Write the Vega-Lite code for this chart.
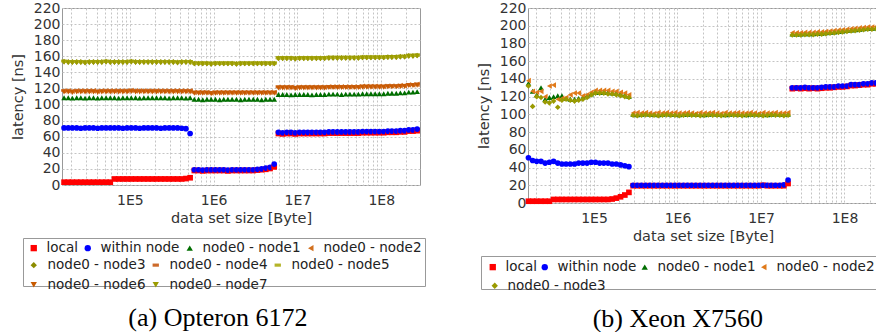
{
  "$schema": "https://vega.github.io/schema/vega-lite/v6.json",
  "background": "white",
  "padding": {"left": 9, "top": 0, "right": 0, "bottom": 0},
  "spacing": 49,
  "datasets": {
    "names": [
      {"k": "a", "series": "local"},
      {"k": "b", "series": "within node"},
      {"k": "c", "series": "node0 - node1"},
      {"k": "d", "series": "node0 - node2"},
      {"k": "e", "series": "node0 - node3"},
      {"k": "f", "series": "node0 - node4"},
      {"k": "g", "series": "node0 - node5"},
      {"k": "h", "series": "node0 - node6"},
      {"k": "i", "series": "node0 - node7"}
    ],
    "left": [
      {"x":16400,"a":3.5,"b":71,"c":108.5,"d":117,"e":153.5,"f":117.5,"g":154,"h":115.5,"i":152.5},
      {"x":18400,"a":3.5,"b":71,"c":108.5,"d":117,"e":153,"f":117.5,"g":153.5,"h":115.5,"i":152},
      {"x":20600,"a":3.5,"b":71,"c":108,"d":116.5,"e":153,"f":117,"g":153.5,"h":115,"i":152},
      {"x":23200,"a":3.5,"b":71,"c":108.5,"d":117,"e":153,"f":117.5,"g":153.5,"h":115.5,"i":152},
      {"x":26000,"a":3.5,"b":70.5,"c":108.5,"d":117,"e":153,"f":117.5,"g":153.5,"h":115.5,"i":152},
      {"x":29200,"a":3.5,"b":71,"c":108,"d":117,"e":152.5,"f":117.5,"g":153,"h":115.5,"i":151.5},
      {"x":32800,"a":3.5,"b":71,"c":108.5,"d":117,"e":153,"f":117.5,"g":153.5,"h":115.5,"i":152},
      {"x":36800,"a":3.5,"b":71,"c":108.5,"d":117,"e":153,"f":117.5,"g":153.5,"h":115.5,"i":152},
      {"x":41300,"a":3.5,"b":70.5,"c":108,"d":116.5,"e":153,"f":117,"g":153.5,"h":115,"i":152},
      {"x":46300,"a":3.5,"b":71,"c":108.5,"d":117,"e":153,"f":117.5,"g":153.5,"h":115.5,"i":152},
      {"x":52000,"a":3.5,"b":71,"c":108.5,"d":117,"e":153.5,"f":117.5,"g":154,"h":115.5,"i":152.5},
      {"x":58400,"a":3.5,"b":71,"c":108.5,"d":117,"e":153,"f":117.5,"g":153.5,"h":115.5,"i":152},
      {"x":65500,"a":7.5,"b":71,"c":108.5,"d":117,"e":153,"f":117.5,"g":153.5,"h":115.5,"i":152},
      {"x":73600,"a":7.5,"b":71,"c":108,"d":117,"e":153,"f":117.5,"g":153.5,"h":115.5,"i":152},
      {"x":82600,"a":7.5,"b":70.5,"c":108.5,"d":117,"e":153,"f":117.5,"g":153.5,"h":115.5,"i":152},
      {"x":92700,"a":7.5,"b":71,"c":108.5,"d":117,"e":153,"f":117.5,"g":153.5,"h":115.5,"i":152},
      {"x":104000,"a":7.5,"b":71,"c":108.5,"d":117.5,"e":153.5,"f":118,"g":154,"h":116,"i":152.5},
      {"x":117000,"a":7.5,"b":71,"c":108.5,"d":117,"e":153,"f":117.5,"g":153.5,"h":115.5,"i":152},
      {"x":131000,"a":7.5,"b":70.5,"c":108,"d":117,"e":153,"f":117.5,"g":153.5,"h":115.5,"i":152},
      {"x":147000,"a":7.5,"b":71,"c":108.5,"d":117,"e":153,"f":117.5,"g":153.5,"h":115.5,"i":152},
      {"x":165000,"a":7.5,"b":71,"c":108.5,"d":117,"e":153,"f":117.5,"g":153.5,"h":115.5,"i":152},
      {"x":185000,"a":7.5,"b":71,"c":108.5,"d":117,"e":153,"f":117.5,"g":153.5,"h":115.5,"i":152},
      {"x":208000,"a":7.5,"b":71,"c":108.5,"d":117,"e":153,"f":117.5,"g":153.5,"h":115.5,"i":152},
      {"x":234000,"a":7.5,"b":70.5,"c":108.5,"d":117,"e":153,"f":117.5,"g":153.5,"h":115.5,"i":152},
      {"x":262000,"a":7.5,"b":71,"c":108.5,"d":117,"e":153,"f":117.5,"g":153.5,"h":115.5,"i":152},
      {"x":294000,"a":7.5,"b":71,"c":108,"d":117,"e":153,"f":117.5,"g":153.5,"h":115.5,"i":152},
      {"x":330000,"a":7.5,"b":71,"c":108.5,"d":117,"e":153,"f":117.5,"g":153.5,"h":115.5,"i":152},
      {"x":371000,"a":7.5,"b":71,"c":108.5,"d":117,"e":152.5,"f":117.5,"g":153,"h":115.5,"i":151.5},
      {"x":416000,"a":7.5,"b":70.5,"c":108.5,"d":117,"e":153,"f":117.5,"g":153.5,"h":115.5,"i":152},
      {"x":467000,"a":8,"b":70,"c":108,"d":117,"e":153,"f":117.5,"g":153.5,"h":115.5,"i":152},
      {"x":524000,"a":9,"b":64,"c":108.5,"d":117,"e":153,"f":117.5,"g":153.5,"h":115.5,"i":152},
      {"x":588000,"a":18,"b":19,"c":106.5,"d":115,"e":151,"f":115.5,"g":151.5,"h":114,"i":150.5},
      {"x":661000,"a":18,"b":19,"c":106.5,"d":115,"e":151,"f":115.5,"g":151.5,"h":114,"i":150.5},
      {"x":741000,"a":17.5,"b":18.5,"c":106,"d":115,"e":151,"f":115.5,"g":151.5,"h":114,"i":150.5},
      {"x":832000,"a":18,"b":19,"c":106.5,"d":115,"e":151,"f":115.5,"g":151.5,"h":114,"i":150.5},
      {"x":934000,"a":18,"b":19,"c":106.5,"d":114.5,"e":150.5,"f":115,"g":151,"h":113.5,"i":150},
      {"x":1050000,"a":18,"b":19,"c":106.5,"d":115,"e":151,"f":115.5,"g":151.5,"h":114,"i":150.5},
      {"x":1180000,"a":18,"b":19,"c":106,"d":115,"e":151,"f":115.5,"g":151.5,"h":114,"i":150.5},
      {"x":1320000,"a":18,"b":19,"c":106.5,"d":115,"e":151,"f":115.5,"g":151.5,"h":114,"i":150.5},
      {"x":1480000,"a":17.5,"b":18.5,"c":106.5,"d":115,"e":151,"f":115.5,"g":151.5,"h":114,"i":150.5},
      {"x":1660000,"a":18,"b":19,"c":106.5,"d":115,"e":151,"f":115.5,"g":151.5,"h":114,"i":150.5},
      {"x":1870000,"a":18,"b":19,"c":106.5,"d":115,"e":150.5,"f":115.5,"g":151,"h":114,"i":150},
      {"x":2100000,"a":18,"b":19,"c":106,"d":115,"e":151,"f":115.5,"g":151.5,"h":114,"i":150.5},
      {"x":2350000,"a":18,"b":19,"c":106.5,"d":115,"e":151,"f":115.5,"g":151.5,"h":114,"i":150.5},
      {"x":2640000,"a":18,"b":19,"c":106.5,"d":115,"e":151,"f":115.5,"g":151.5,"h":114,"i":150.5},
      {"x":2970000,"a":18,"b":19,"c":106.5,"d":115,"e":151,"f":115.5,"g":151.5,"h":114,"i":150.5},
      {"x":3330000,"a":18.5,"b":19.5,"c":106.5,"d":115,"e":151,"f":115.5,"g":151.5,"h":114,"i":150.5},
      {"x":3740000,"a":19,"b":20,"c":106,"d":115,"e":151,"f":115.5,"g":151.5,"h":114,"i":150.5},
      {"x":4190000,"a":19.5,"b":21,"c":106.5,"d":115,"e":151,"f":115.5,"g":151.5,"h":114,"i":150.5},
      {"x":4710000,"a":20.5,"b":22,"c":106.5,"d":115,"e":151,"f":115.5,"g":151.5,"h":114,"i":150.5},
      {"x":5280000,"a":22.5,"b":26,"c":106.5,"d":115,"e":151,"f":115.5,"g":151.5,"h":114,"i":150.5},
      {"x":5930000,"a":64,"b":65.5,"c":112.5,"d":121.5,"e":157.5,"f":122,"g":158,"h":120.5,"i":157},
      {"x":6660000,"a":63.5,"b":65,"c":112.5,"d":121.5,"e":157.5,"f":122,"g":158,"h":120.5,"i":157},
      {"x":7470000,"a":64,"b":65.5,"c":112.5,"d":121.5,"e":157.5,"f":122,"g":158,"h":120.5,"i":157},
      {"x":8390000,"a":64,"b":65.5,"c":112,"d":121.5,"e":157.5,"f":122,"g":158,"h":120.5,"i":157},
      {"x":9420000,"a":63.5,"b":65,"c":112.5,"d":121,"e":157,"f":121.5,"g":157.5,"h":120,"i":156.5},
      {"x":10600000,"a":64,"b":65.5,"c":112.5,"d":121.5,"e":157.5,"f":122,"g":158,"h":120.5,"i":157},
      {"x":11900000,"a":64,"b":65.5,"c":112.5,"d":121.5,"e":157.5,"f":122,"g":158,"h":120.5,"i":157},
      {"x":13300000,"a":64,"b":65.5,"c":112.5,"d":121.5,"e":157.5,"f":122,"g":158,"h":120.5,"i":157},
      {"x":14900000,"a":64,"b":65.5,"c":112,"d":121.5,"e":157.5,"f":122,"g":158,"h":120.5,"i":157},
      {"x":16800000,"a":64,"b":65.5,"c":112.5,"d":121.5,"e":157.5,"f":122,"g":158,"h":120.5,"i":157},
      {"x":18800000,"a":64,"b":65.5,"c":112.5,"d":121.5,"e":157.5,"f":122,"g":158,"h":120.5,"i":157},
      {"x":21100000,"a":64,"b":65.5,"c":112.5,"d":121.5,"e":157.5,"f":122,"g":158,"h":120.5,"i":157},
      {"x":23700000,"a":64.5,"b":66,"c":113,"d":122,"e":158,"f":122.5,"g":158.5,"h":121,"i":157.5},
      {"x":26600000,"a":64.5,"b":66,"c":113,"d":122,"e":158,"f":122.5,"g":158.5,"h":121,"i":157.5},
      {"x":29900000,"a":64.5,"b":66,"c":113,"d":122,"e":158,"f":122.5,"g":158.5,"h":121,"i":157.5},
      {"x":33600000,"a":64.5,"b":66,"c":112.5,"d":122,"e":158,"f":122.5,"g":158.5,"h":121,"i":157.5},
      {"x":37700000,"a":64.5,"b":66,"c":113,"d":122,"e":158,"f":122.5,"g":158.5,"h":121,"i":157.5},
      {"x":42300000,"a":64.5,"b":66,"c":113,"d":122,"e":158,"f":122.5,"g":158.5,"h":121,"i":157.5},
      {"x":47500000,"a":64.5,"b":66,"c":113,"d":122,"e":158,"f":122.5,"g":158.5,"h":121,"i":157.5},
      {"x":53300000,"a":64.5,"b":66,"c":113,"d":122,"e":158,"f":122.5,"g":158.5,"h":121,"i":157.5},
      {"x":59800000,"a":65,"b":66.5,"c":113.5,"d":122.5,"e":158.5,"f":123,"g":159,"h":121.5,"i":158},
      {"x":67100000,"a":65,"b":66.5,"c":113.5,"d":122.5,"e":158.5,"f":123,"g":159,"h":121.5,"i":158},
      {"x":75300000,"a":65,"b":66.5,"c":113.5,"d":122.5,"e":158.5,"f":123,"g":159,"h":121.5,"i":158},
      {"x":84600000,"a":65,"b":66.5,"c":113.5,"d":122.5,"e":158.5,"f":123,"g":159,"h":121.5,"i":158},
      {"x":94900000,"a":65,"b":66.5,"c":113.5,"d":122.5,"e":158.5,"f":123,"g":159,"h":121.5,"i":158},
      {"x":107000000,"a":65,"b":66.5,"c":113.5,"d":122.5,"e":158.5,"f":123,"g":159,"h":121.5,"i":158},
      {"x":120000000,"a":65.5,"b":67,"c":114,"d":123,"e":159,"f":123.5,"g":159.5,"h":122,"i":158.5},
      {"x":134000000,"a":65.5,"b":67,"c":114,"d":123,"e":159,"f":123.5,"g":159.5,"h":122,"i":158.5},
      {"x":151000000,"a":65.5,"b":67,"c":114,"d":123,"e":159,"f":123.5,"g":159.5,"h":122,"i":158.5},
      {"x":169000000,"a":66,"b":67.5,"c":114.5,"d":123.5,"e":159.5,"f":124,"g":160,"h":122.5,"i":159},
      {"x":190000000,"a":66,"b":67.5,"c":114.5,"d":123.5,"e":159.5,"f":124,"g":160,"h":122.5,"i":159},
      {"x":213000000,"a":67,"b":68.5,"c":115.5,"d":124.5,"e":160.5,"f":125,"g":161,"h":123.5,"i":160},
      {"x":239000000,"a":67,"b":68.5,"c":115.5,"d":124.5,"e":160.5,"f":125,"g":161,"h":123.5,"i":160},
      {"x":268000000,"a":67.5,"b":69.5,"c":116,"d":125,"e":161,"f":125.5,"g":161.5,"h":124,"i":160.5}
    ],
    "right": [
      {"x":16400,"a":2,"b":51,"c":135,"d":138,"e":132},
      {"x":18400,"a":2,"b":48,"c":126,"d":126,"e":109},
      {"x":20600,"a":2,"b":47,"c":122,"d":125,"e":120},
      {"x":23200,"a":2,"b":47,"c":130,"d":126,"e":119},
      {"x":26000,"a":2,"b":45,"c":117,"d":120,"e":114},
      {"x":29200,"a":2,"b":46,"c":119,"d":132,"e":113},
      {"x":32800,"a":4,"b":47,"c":120,"d":133,"e":115},
      {"x":36800,"a":4,"b":45,"c":121,"d":117,"e":108},
      {"x":41300,"a":4,"b":44,"c":121,"d":118,"e":116},
      {"x":46300,"a":4,"b":44,"c":118,"d":119,"e":117},
      {"x":52000,"a":4,"b":44,"c":117,"d":122,"e":116},
      {"x":58400,"a":4,"b":44,"c":117,"d":124,"e":115},
      {"x":65500,"a":4,"b":45,"c":118,"d":124,"e":116},
      {"x":73600,"a":4,"b":45,"c":119,"d":121,"e":117},
      {"x":82600,"a":4,"b":45,"c":121,"d":122,"e":119},
      {"x":92700,"a":4,"b":46,"c":123,"d":125,"e":122},
      {"x":104000,"a":4,"b":46,"c":125,"d":127,"e":124},
      {"x":117000,"a":4,"b":45,"c":125,"d":127,"e":124},
      {"x":131000,"a":4,"b":45,"c":125,"d":127,"e":124},
      {"x":147000,"a":4,"b":45,"c":125,"d":127,"e":123},
      {"x":165000,"a":4.5,"b":44,"c":124,"d":126,"e":123},
      {"x":185000,"a":5.5,"b":44,"c":124,"d":126,"e":122},
      {"x":208000,"a":7,"b":43,"c":123,"d":125,"e":121},
      {"x":234000,"a":9,"b":42,"c":122,"d":124,"e":120},
      {"x":262000,"a":12,"b":41,"c":120,"d":122,"e":119},
      {"x":294000,"a":19.5,"b":20,"c":100,"d":101.5,"e":99},
      {"x":330000,"a":19.5,"b":20,"c":99.5,"d":102,"e":98.5},
      {"x":371000,"a":19.5,"b":20,"c":100,"d":101.5,"e":99},
      {"x":416000,"a":19.5,"b":20,"c":100.5,"d":102,"e":99.5},
      {"x":467000,"a":19.5,"b":20,"c":100,"d":101.5,"e":99},
      {"x":524000,"a":19.5,"b":20,"c":100,"d":101,"e":99},
      {"x":588000,"a":19.5,"b":20,"c":99.5,"d":102,"e":98.5},
      {"x":661000,"a":19.5,"b":20,"c":100,"d":101.5,"e":99},
      {"x":741000,"a":19.5,"b":20,"c":100.5,"d":102,"e":99.5},
      {"x":832000,"a":19.5,"b":20,"c":100,"d":101.5,"e":99},
      {"x":934000,"a":19.5,"b":20,"c":100,"d":102,"e":99},
      {"x":1050000,"a":19.5,"b":20,"c":99.5,"d":101.5,"e":98.5},
      {"x":1180000,"a":19.5,"b":20,"c":100,"d":101.5,"e":99},
      {"x":1320000,"a":19.5,"b":20,"c":100,"d":102,"e":99.5},
      {"x":1480000,"a":19.5,"b":20,"c":100.5,"d":101.5,"e":99},
      {"x":1660000,"a":19.5,"b":20,"c":100,"d":101,"e":99},
      {"x":1870000,"a":19.5,"b":20,"c":100,"d":102,"e":98.5},
      {"x":2100000,"a":19.5,"b":20,"c":99.5,"d":101.5,"e":99},
      {"x":2350000,"a":19.5,"b":20,"c":100,"d":101.5,"e":99.5},
      {"x":2640000,"a":19.5,"b":20,"c":100.5,"d":102,"e":99},
      {"x":2970000,"a":19.5,"b":20,"c":100,"d":101.5,"e":99},
      {"x":3330000,"a":19.5,"b":20,"c":100,"d":101,"e":98.5},
      {"x":3740000,"a":19.5,"b":20,"c":99.5,"d":102,"e":99},
      {"x":4190000,"a":19.5,"b":20,"c":100,"d":101.5,"e":99.5},
      {"x":4710000,"a":19.5,"b":20,"c":100.5,"d":101.5,"e":99},
      {"x":5280000,"a":19.5,"b":20,"c":100,"d":102,"e":99},
      {"x":5930000,"a":19.5,"b":20,"c":100,"d":101.5,"e":98.5},
      {"x":6660000,"a":19.5,"b":20,"c":99.5,"d":101.5,"e":99},
      {"x":7470000,"a":19.5,"b":20,"c":100,"d":102,"e":99.5},
      {"x":8390000,"a":19.5,"b":20,"c":100.5,"d":101.5,"e":99},
      {"x":9420000,"a":19.5,"b":20,"c":100,"d":101,"e":99},
      {"x":10600000,"a":20,"b":20,"c":100,"d":102,"e":98.5},
      {"x":11900000,"a":19.5,"b":20,"c":99.5,"d":101.5,"e":99},
      {"x":13300000,"a":19.5,"b":20,"c":100,"d":101.5,"e":99.5},
      {"x":14900000,"a":19.5,"b":20,"c":100.5,"d":102,"e":99},
      {"x":16800000,"a":19.5,"b":20,"c":100,"d":101.5,"e":99},
      {"x":18800000,"a":19.5,"b":20.5,"c":100,"d":101.5,"e":98.5},
      {"x":21100000,"a":22,"b":26,"c":100,"d":102,"e":99},
      {"x":23700000,"a":129,"b":130,"c":190.5,"d":192,"e":189.5},
      {"x":26600000,"a":129.5,"b":130,"c":190.5,"d":192,"e":189.5},
      {"x":29900000,"a":129,"b":130,"c":190.5,"d":192,"e":189.5},
      {"x":33600000,"a":129.5,"b":130.5,"c":191,"d":192.5,"e":190},
      {"x":37700000,"a":129,"b":130,"c":191,"d":192.5,"e":190},
      {"x":42300000,"a":129.5,"b":130,"c":191,"d":192.5,"e":190},
      {"x":47500000,"a":129,"b":130,"c":191.5,"d":193,"e":190.5},
      {"x":53300000,"a":129.5,"b":130.5,"c":191.5,"d":193,"e":190.5},
      {"x":59800000,"a":130,"b":131,"c":192,"d":193.5,"e":191},
      {"x":67100000,"a":130,"b":131,"c":192.5,"d":194,"e":191.5},
      {"x":75300000,"a":130.5,"b":131,"c":193,"d":194.5,"e":192},
      {"x":84600000,"a":131,"b":132,"c":193.5,"d":195,"e":192.5},
      {"x":94900000,"a":131,"b":132,"c":194,"d":195.5,"e":193},
      {"x":107000000,"a":131.5,"b":132,"c":194.5,"d":196,"e":193.5},
      {"x":120000000,"a":132.5,"b":133.5,"c":195,"d":196.5,"e":194},
      {"x":134000000,"a":132.5,"b":133.5,"c":195.5,"d":197,"e":194.5},
      {"x":151000000,"a":133,"b":133.5,"c":196,"d":197.5,"e":195},
      {"x":169000000,"a":133.5,"b":134.5,"c":196.5,"d":198,"e":195.5},
      {"x":190000000,"a":133.5,"b":134.5,"c":197,"d":198.5,"e":196},
      {"x":213000000,"a":134.5,"b":135.5,"c":197,"d":198.5,"e":196},
      {"x":239000000,"a":134.5,"b":135.5,"c":197.5,"d":199,"e":196.5}
    ]
  },
  "hconcat": [
    {
      "width": 358,
      "height": 177,
      "title": {"text": "(a) Opteron 6172", "orient": "bottom", "frame": "bounds", "anchor": "middle", "offset": 12},
      "data": {"name": "left"},
      "transform": [
        {"fold": ["a", "b", "c", "d", "e", "f", "g", "h", "i"], "as": ["k", "v"]},
        {"lookup": "k", "from": {"data": {"name": "names"}, "key": "k", "fields": ["series"]}}
      ],
      "encoding": {
        "x": {
          "field": "x", "type": "quantitative",
          "scale": {"type": "log", "domain": [15500, 290000000], "nice": false},
          "axis": {
            "title": "data set size [Byte]",
            "values": [20000,30000,40000,50000,60000,70000,80000,90000,100000,200000,300000,400000,500000,600000,700000,800000,900000,1000000,2000000,3000000,4000000,5000000,6000000,7000000,8000000,9000000,10000000,20000000,30000000,40000000,50000000,60000000,70000000,80000000,90000000,100000000,200000000],
            "labelExpr": "datum.value == 100000 ? '1E5' : datum.value == 1000000 ? '1E6' : datum.value == 10000000 ? '1E7' : datum.value == 100000000 ? '1E8' : ''",
            "labelPadding": 8, "titlePadding": 4
          }
        },
        "y": {
          "field": "v", "type": "quantitative",
          "scale": {"domain": [0, 220], "nice": false},
          "axis": {"title": "latency [ns]", "values": [0,20,40,60,80,100,120,140,160,180,200,220], "labelPadding": 2, "titlePadding": 8}
        }
      },
      "layer": [
        {
          "transform": [{"filter": {"field": "k", "oneOf": ["a", "b", "c", "d"]}}],
          "mark": {"type": "point", "filled": true, "opacity": 1, "size": 32},
          "encoding": {
            "color": {
              "field": "series", "type": "nominal",
              "scale": {"domain": ["local", "within node", "node0 - node1", "node0 - node2"], "range": ["#ff0000", "#0000ff", "#006e00", "#d2701e"]},
              "legend": {"orient": "none", "legendX": -39, "legendY": 230, "direction": "horizontal", "columns": 4, "title": "\u00a0\u00a0\u00a0\u00a0\u00a0\u00a0\u00a0\u00a0\u00a0\u00a0\u00a0\u00a0\u00a0\u00a0\u00a0\u00a0\u00a0\u00a0\u00a0\u00a0\u00a0\u00a0\u00a0\u00a0\u00a0\u00a0\u00a0\u00a0\u00a0\u00a0\u00a0\u00a0\u00a0\u00a0\u00a0\u00a0\u00a0\u00a0\u00a0\u00a0\u00a0\u00a0\u00a0\u00a0\u00a0\u00a0\u00a0\u00a0\u00a0\u00a0\u00a0\u00a0\u00a0\u00a0\u00a0", "titleOrient": "bottom", "titleFontSize": 22.5, "titleLimit": 1000, "titlePadding": 5, "padding": 3, "strokeColor": "#999999", "columnPadding": 2, "labelOffset": 6, "symbolOffset": 1}
            },
            "shape": {
              "field": "series", "type": "nominal",
              "scale": {"domain": ["local", "within node", "node0 - node1", "node0 - node2"], "range": ["square", "circle", "triangle-up", "triangle-left"]},
              "legend": {"orient": "none", "legendX": -39, "legendY": 230, "direction": "horizontal", "columns": 4, "title": "\u00a0\u00a0\u00a0\u00a0\u00a0\u00a0\u00a0\u00a0\u00a0\u00a0\u00a0\u00a0\u00a0\u00a0\u00a0\u00a0\u00a0\u00a0\u00a0\u00a0\u00a0\u00a0\u00a0\u00a0\u00a0\u00a0\u00a0\u00a0\u00a0\u00a0\u00a0\u00a0\u00a0\u00a0\u00a0\u00a0\u00a0\u00a0\u00a0\u00a0\u00a0\u00a0\u00a0\u00a0\u00a0\u00a0\u00a0\u00a0\u00a0\u00a0\u00a0\u00a0\u00a0\u00a0\u00a0", "titleOrient": "bottom", "titleFontSize": 22.5, "titleLimit": 1000, "titlePadding": 5, "padding": 3, "strokeColor": "#999999", "columnPadding": 2, "labelOffset": 6, "symbolOffset": 1}
            }
          }
        },
        {
          "transform": [{"filter": {"field": "k", "oneOf": ["e", "f", "g", "h", "i"]}}],
          "mark": {"type": "point", "filled": true, "opacity": 1, "size": 32},
          "encoding": {
            "color": {
              "field": "series", "type": "nominal",
              "scale": {"domain": ["node0 - node3", "node0 - node4", "node0 - node5", "node0 - node6", "node0 - node7"], "range": ["#8c8c00", "#cc6a2a", "#b4b428", "#c85a00", "#9c9c00"]},
              "legend": {"orient": "none", "legendX": -36, "legendY": 250, "direction": "horizontal", "columns": 3, "title": null, "padding": 0, "rowPadding": 5, "strokeColor": "transparent", "columnPadding": 2, "labelOffset": 7, "symbolOffset": 1}
            },
            "shape": {
              "field": "series", "type": "nominal",
              "scale": {"domain": ["node0 - node3", "node0 - node4", "node0 - node5", "node0 - node6", "node0 - node7"], "range": ["diamond", "M-1,-0.5L1,-0.5L1,0.5L-1,0.5Z", "M-1,-0.5L1,-0.5L1,0.5L-1,0.5Z", "triangle-down", "triangle-down"]},
              "legend": {"orient": "none", "legendX": -36, "legendY": 250, "direction": "horizontal", "columns": 3, "title": null, "padding": 0, "rowPadding": 5, "strokeColor": "transparent", "columnPadding": 2, "labelOffset": 7, "symbolOffset": 1}
            }
          }
        }
      ],
      "resolve": {"scale": {"color": "independent", "shape": "independent"}, "legend": {"color": "independent", "shape": "independent"}}
    },
    {
      "width": 350,
      "height": 195,
      "title": {"text": "(b) Xeon X7560", "orient": "bottom", "frame": "bounds", "anchor": "middle", "offset": 12},
      "data": {"name": "right"},
      "transform": [
        {"fold": ["a", "b", "c", "d", "e"], "as": ["k", "v"]},
        {"lookup": "k", "from": {"data": {"name": "names"}, "key": "k", "fields": ["series"]}}
      ],
      "encoding": {
        "x": {
          "field": "x", "type": "quantitative",
          "scale": {"type": "log", "domain": [16200, 252000000], "nice": false},
          "axis": {
            "title": "data set size [Byte]",
            "values": [20000,30000,40000,50000,60000,70000,80000,90000,100000,200000,300000,400000,500000,600000,700000,800000,900000,1000000,2000000,3000000,4000000,5000000,6000000,7000000,8000000,9000000,10000000,20000000,30000000,40000000,50000000,60000000,70000000,80000000,90000000,100000000,200000000],
            "labelExpr": "datum.value == 100000 ? '1E5' : datum.value == 1000000 ? '1E6' : datum.value == 10000000 ? '1E7' : datum.value == 100000000 ? '1E8' : ''",
            "labelPadding": 8, "titlePadding": 4
          }
        },
        "y": {
          "field": "v", "type": "quantitative",
          "scale": {"domain": [0, 220], "nice": false},
          "axis": {"title": "latency [ns]", "values": [0,20,40,60,80,100,120,140,160,180,200,220], "labelPadding": 2, "titlePadding": 8}
        }
      },
      "layer": [
        {
          "transform": [{"filter": {"field": "k", "oneOf": ["a", "b", "c", "d"]}}],
          "mark": {"type": "point", "filled": true, "opacity": 1, "size": 32},
          "encoding": {
            "color": {
              "field": "series", "type": "nominal",
              "scale": {"domain": ["local", "within node", "node0 - node1", "node0 - node2"], "range": ["#ff0000", "#0000ff", "#006e00", "#e07a1a"]},
              "legend": {"orient": "none", "legendX": -47, "legendY": 248, "direction": "horizontal", "columns": 4, "title": "\u00a0", "titleOrient": "bottom", "titleFontSize": 8, "titlePadding": 3, "padding": 4, "strokeColor": "#999999", "columnPadding": -2, "labelOffset": 6, "symbolOffset": 1}
            },
            "shape": {
              "field": "series", "type": "nominal",
              "scale": {"domain": ["local", "within node", "node0 - node1", "node0 - node2"], "range": ["square", "circle", "triangle-up", "triangle-left"]},
              "legend": {"orient": "none", "legendX": -47, "legendY": 248, "direction": "horizontal", "columns": 4, "title": "\u00a0", "titleOrient": "bottom", "titleFontSize": 8, "titlePadding": 3, "padding": 4, "strokeColor": "#999999", "columnPadding": -2, "labelOffset": 6, "symbolOffset": 1}
            }
          }
        },
        {
          "transform": [{"filter": {"field": "k", "equal": "e"}}],
          "mark": {"type": "point", "filled": true, "opacity": 1, "size": 32},
          "encoding": {
            "color": {
              "field": "series", "type": "nominal",
              "scale": {"domain": ["node0 - node3"], "range": ["#9a9a00"]},
              "legend": {"orient": "none", "legendX": -42, "legendY": 271, "direction": "horizontal", "columns": 1, "title": null, "padding": 0, "strokeColor": "transparent", "labelOffset": 6, "symbolOffset": 2}
            },
            "shape": {
              "field": "series", "type": "nominal",
              "scale": {"domain": ["node0 - node3"], "range": ["diamond"]},
              "legend": {"orient": "none", "legendX": -42, "legendY": 271, "direction": "horizontal", "columns": 1, "title": null, "padding": 0, "strokeColor": "transparent", "labelOffset": 6, "symbolOffset": 2}
            }
          }
        }
      ],
      "resolve": {"scale": {"color": "independent", "shape": "independent"}, "legend": {"color": "independent", "shape": "independent"}}
    }
  ],
  "resolve": {"scale": {"color": "independent", "shape": "independent"}, "legend": {"color": "independent", "shape": "independent"}},
  "config": {
    "font": "DejaVu Sans",
    "view": {"stroke": "#999999", "strokeWidth": 1},
    "axis": {
      "grid": true, "gridColor": "#c4c4c4", "gridDash": [2, 2], "gridWidth": 1,
      "domain": false, "ticks": false,
      "labelFont": "DejaVu Sans", "labelFontSize": 14, "labelColor": "#333333",
      "labelFlush": false, "labelOverlap": false,
      "titleFont": "DejaVu Sans", "titleFontSize": 14.5, "titleFontWeight": "normal", "titleColor": "#333333"
    },
    "legend": {
      "labelFont": "DejaVu Sans", "labelFontSize": 13.5, "labelColor": "#222222",
      "symbolSize": 40, "symbolStrokeWidth": 0, "rowPadding": 6.5, "titleFont": "DejaVu Sans",
      "strokeColor": "#999999", "strokeWidth": 1
    },
    "title": {"font": "Liberation Serif", "fontSize": 26, "fontWeight": "normal", "color": "#000000"}
  }
}
